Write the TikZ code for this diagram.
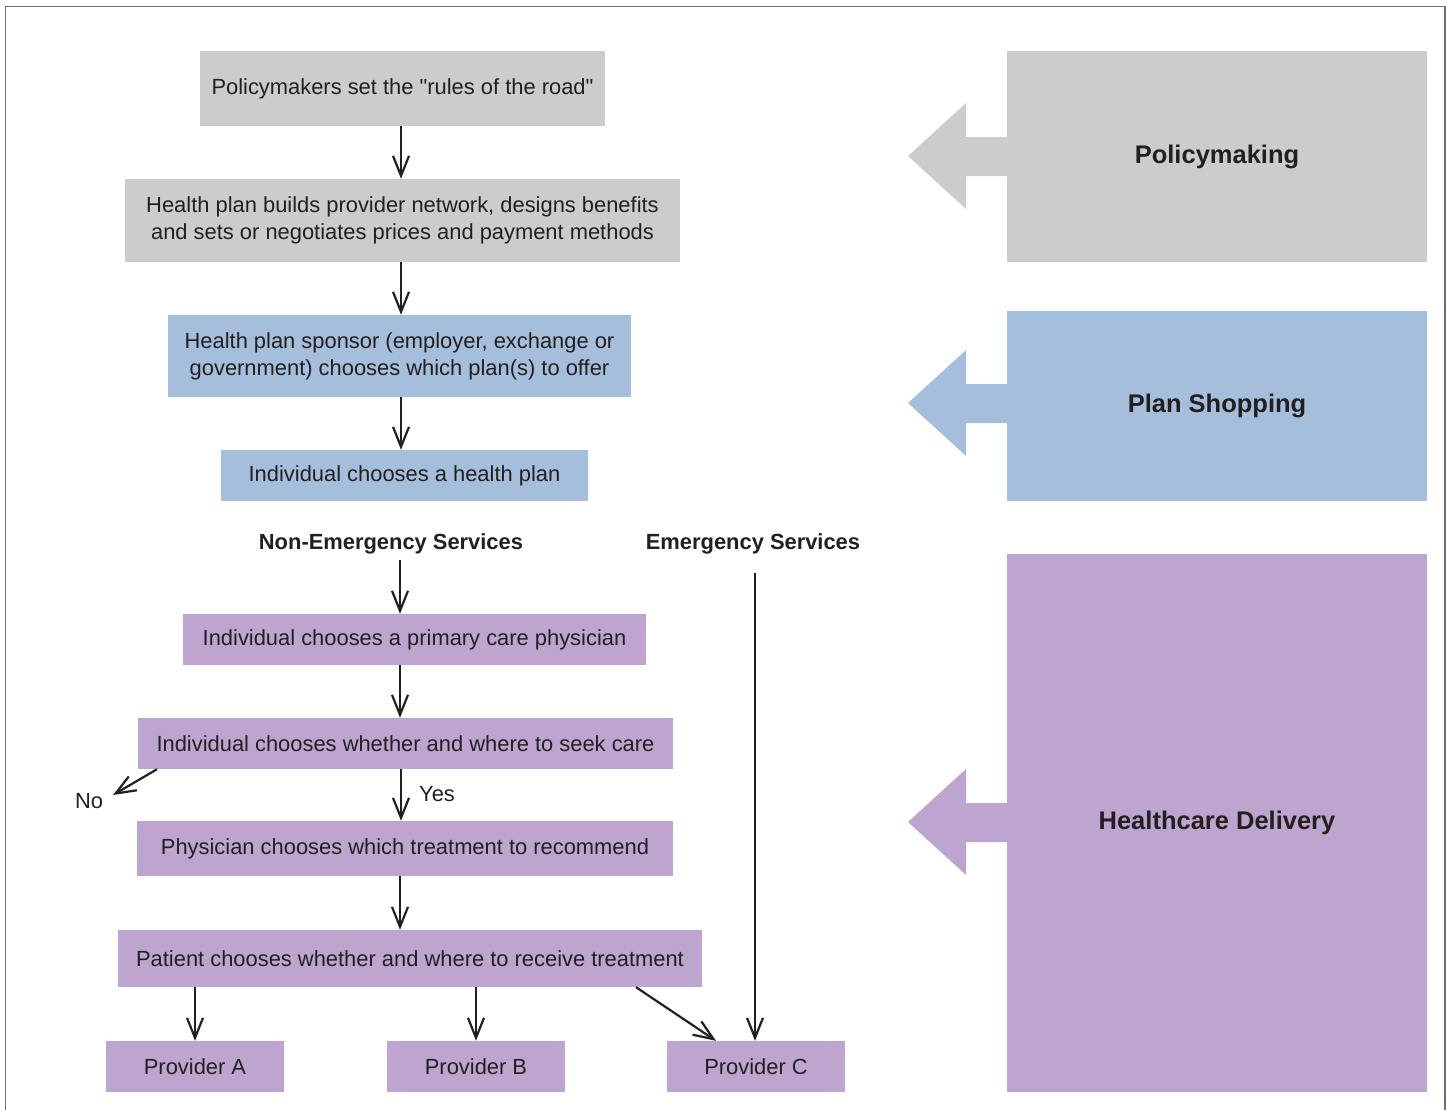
\documentclass[tikz,border=0pt]{standalone}
\usepackage{fontspec}
\setmainfont{Liberation Sans}[Ligatures=TeXOff]
\usetikzlibrary{arrows.meta,calc}
\definecolor{gbox}{HTML}{CBCCCE}
\definecolor{bbox}{HTML}{A5BEDC}
\definecolor{pbox}{HTML}{BDA5CF}
\definecolor{ink}{HTML}{231F20}
\definecolor{frame}{HTML}{6D6E70}
\begin{document}
\begin{tikzpicture}[x=1pt,y=-1pt,
  every node/.style={text=ink, font=\fontsize{21.9}{27}\selectfont},
  fbox/.style={inner sep=0pt, align=center, anchor=center},
  panel/.style={inner sep=0pt, align=center, font=\fontsize{25.5}{30}\selectfont\bfseries},
  arr/.style={draw=ink, line width=2.2pt, -{Straight Barb[length=20pt,width=16pt,line width=2.2pt]}}
]
\useasboundingbox (0,0) rectangle (1448,1109);
\draw[frame, line width=1.6pt] (5.5,1115) -- (5.5,6.5) -- (1445,6.5) -- (1445,1115);

% left flow boxes
\node[fbox, fill=gbox, minimum width=405pt, minimum height=75pt] (b1) at (402.5,88.5) {Policymakers set the "rules of the road"};
\node[fbox, fill=gbox, minimum width=555pt, minimum height=83pt] (b2) at (402.5,220.5) {Health plan builds provider network, designs benefits\\and sets or negotiates prices and payment methods};
\node[fbox, fill=bbox, minimum width=463pt, minimum height=82pt] (b3) at (399.5,356) {Health plan sponsor (employer, exchange or\\government) chooses which plan(s) to offer};
\node[fbox, fill=bbox, minimum width=367pt, minimum height=51pt] (b4) at (404.5,475.5) {Individual chooses a health plan};
\node[font=\fontsize{21.9}{27}\selectfont\bfseries, inner sep=0pt] (ne) at (391,544) {Non-Emergency Services};
\node[font=\fontsize{21.9}{27}\selectfont\bfseries, inner sep=0pt] (em) at (753,544) {Emergency Services};
\node[fbox, fill=pbox, minimum width=463pt, minimum height=51pt] (b5) at (414.5,639.5) {Individual chooses a primary care physician};
\node[fbox, fill=pbox, minimum width=535pt, minimum height=51pt] (b6) at (405.5,743.5) {Individual chooses whether and where to seek care};
\node[fbox, fill=pbox, minimum width=536pt, minimum height=55pt] (b7) at (405,848.5) {Physician chooses which treatment to recommend};
\node[fbox, fill=pbox, minimum width=584pt, minimum height=57pt] (b8) at (410,958.5) {Patient chooses whether and where to receive treatment};
\node[fbox, fill=pbox, minimum width=178pt, minimum height=51pt] (pa) at (195,1066.5) {Provider A};
\node[fbox, fill=pbox, minimum width=178pt, minimum height=51pt] (pb) at (476,1066.5) {Provider B};
\node[fbox, fill=pbox, minimum width=178pt, minimum height=51pt] (pc) at (756,1066.5) {Provider C};
\node[inner sep=0pt] (no) at (89,801) {No};
\node[inner sep=0pt] (yes) at (437,794) {Yes};

% right panels with their pointers
\fill[gbox] (908,156) -- (966,103) -- (966,137) -- (1010,137) -- (1010,176) -- (966,176) -- (966,209) -- cycle;
\fill[bbox] (908,403) -- (966,350) -- (966,384) -- (1010,384) -- (1010,423) -- (966,423) -- (966,456) -- cycle;
\fill[pbox] (908,822) -- (966,769) -- (966,803) -- (1010,803) -- (1010,842) -- (966,842) -- (966,875) -- cycle;
\node[panel, fill=gbox, minimum width=420pt, minimum height=211pt] (pm) at (1217,156.5) {Policymaking};
\node[panel, fill=bbox, minimum width=420pt, minimum height=190pt] (ps) at (1217,406) {Plan Shopping};
\node[panel, fill=pbox, minimum width=420pt, minimum height=538pt] (hd) at (1217,823) {Healthcare Delivery};

% connectors
\coordinate (ax) at (401,0);
\coordinate (ax0) at (400,0);
\coordinate (emx) at (755,0);
\coordinate (emtop) at (755,573);
\coordinate (nostart) at (157,0);
\coordinate (notip) at (113,795);
\draw[arr] (b1.south -| ax) -- (b2.north -| ax);
\draw[arr] (b2.south -| ax) -- (b3.north -| ax);
\draw[arr] (b3.south -| ax) -- (b4.north -| ax);
\draw[arr] ($(ne.south -| ax0)+(0,6)$) -- (b5.north -| ax0);
\draw[arr] (b5.south -| ax0) -- (b6.north -| ax0);
\draw[arr] (b6.south -| ax) -- (b7.north -| ax);
\draw[arr] (b7.south -| ax0) -- (b8.north -| ax0);
\draw[arr] (b6.south -| nostart) -- (notip);
\draw[arr] (emtop) -- (pc.north -| emx);
\draw[arr] (b8.south -| pa.north) -- (pa.north);
\draw[arr] (b8.south -| pb.north) -- (pb.north);
\draw[arr] ($(b8.south)+(226,0)$) -- ($(pc.north)+(-40,0)$);
\end{tikzpicture}
\end{document}
